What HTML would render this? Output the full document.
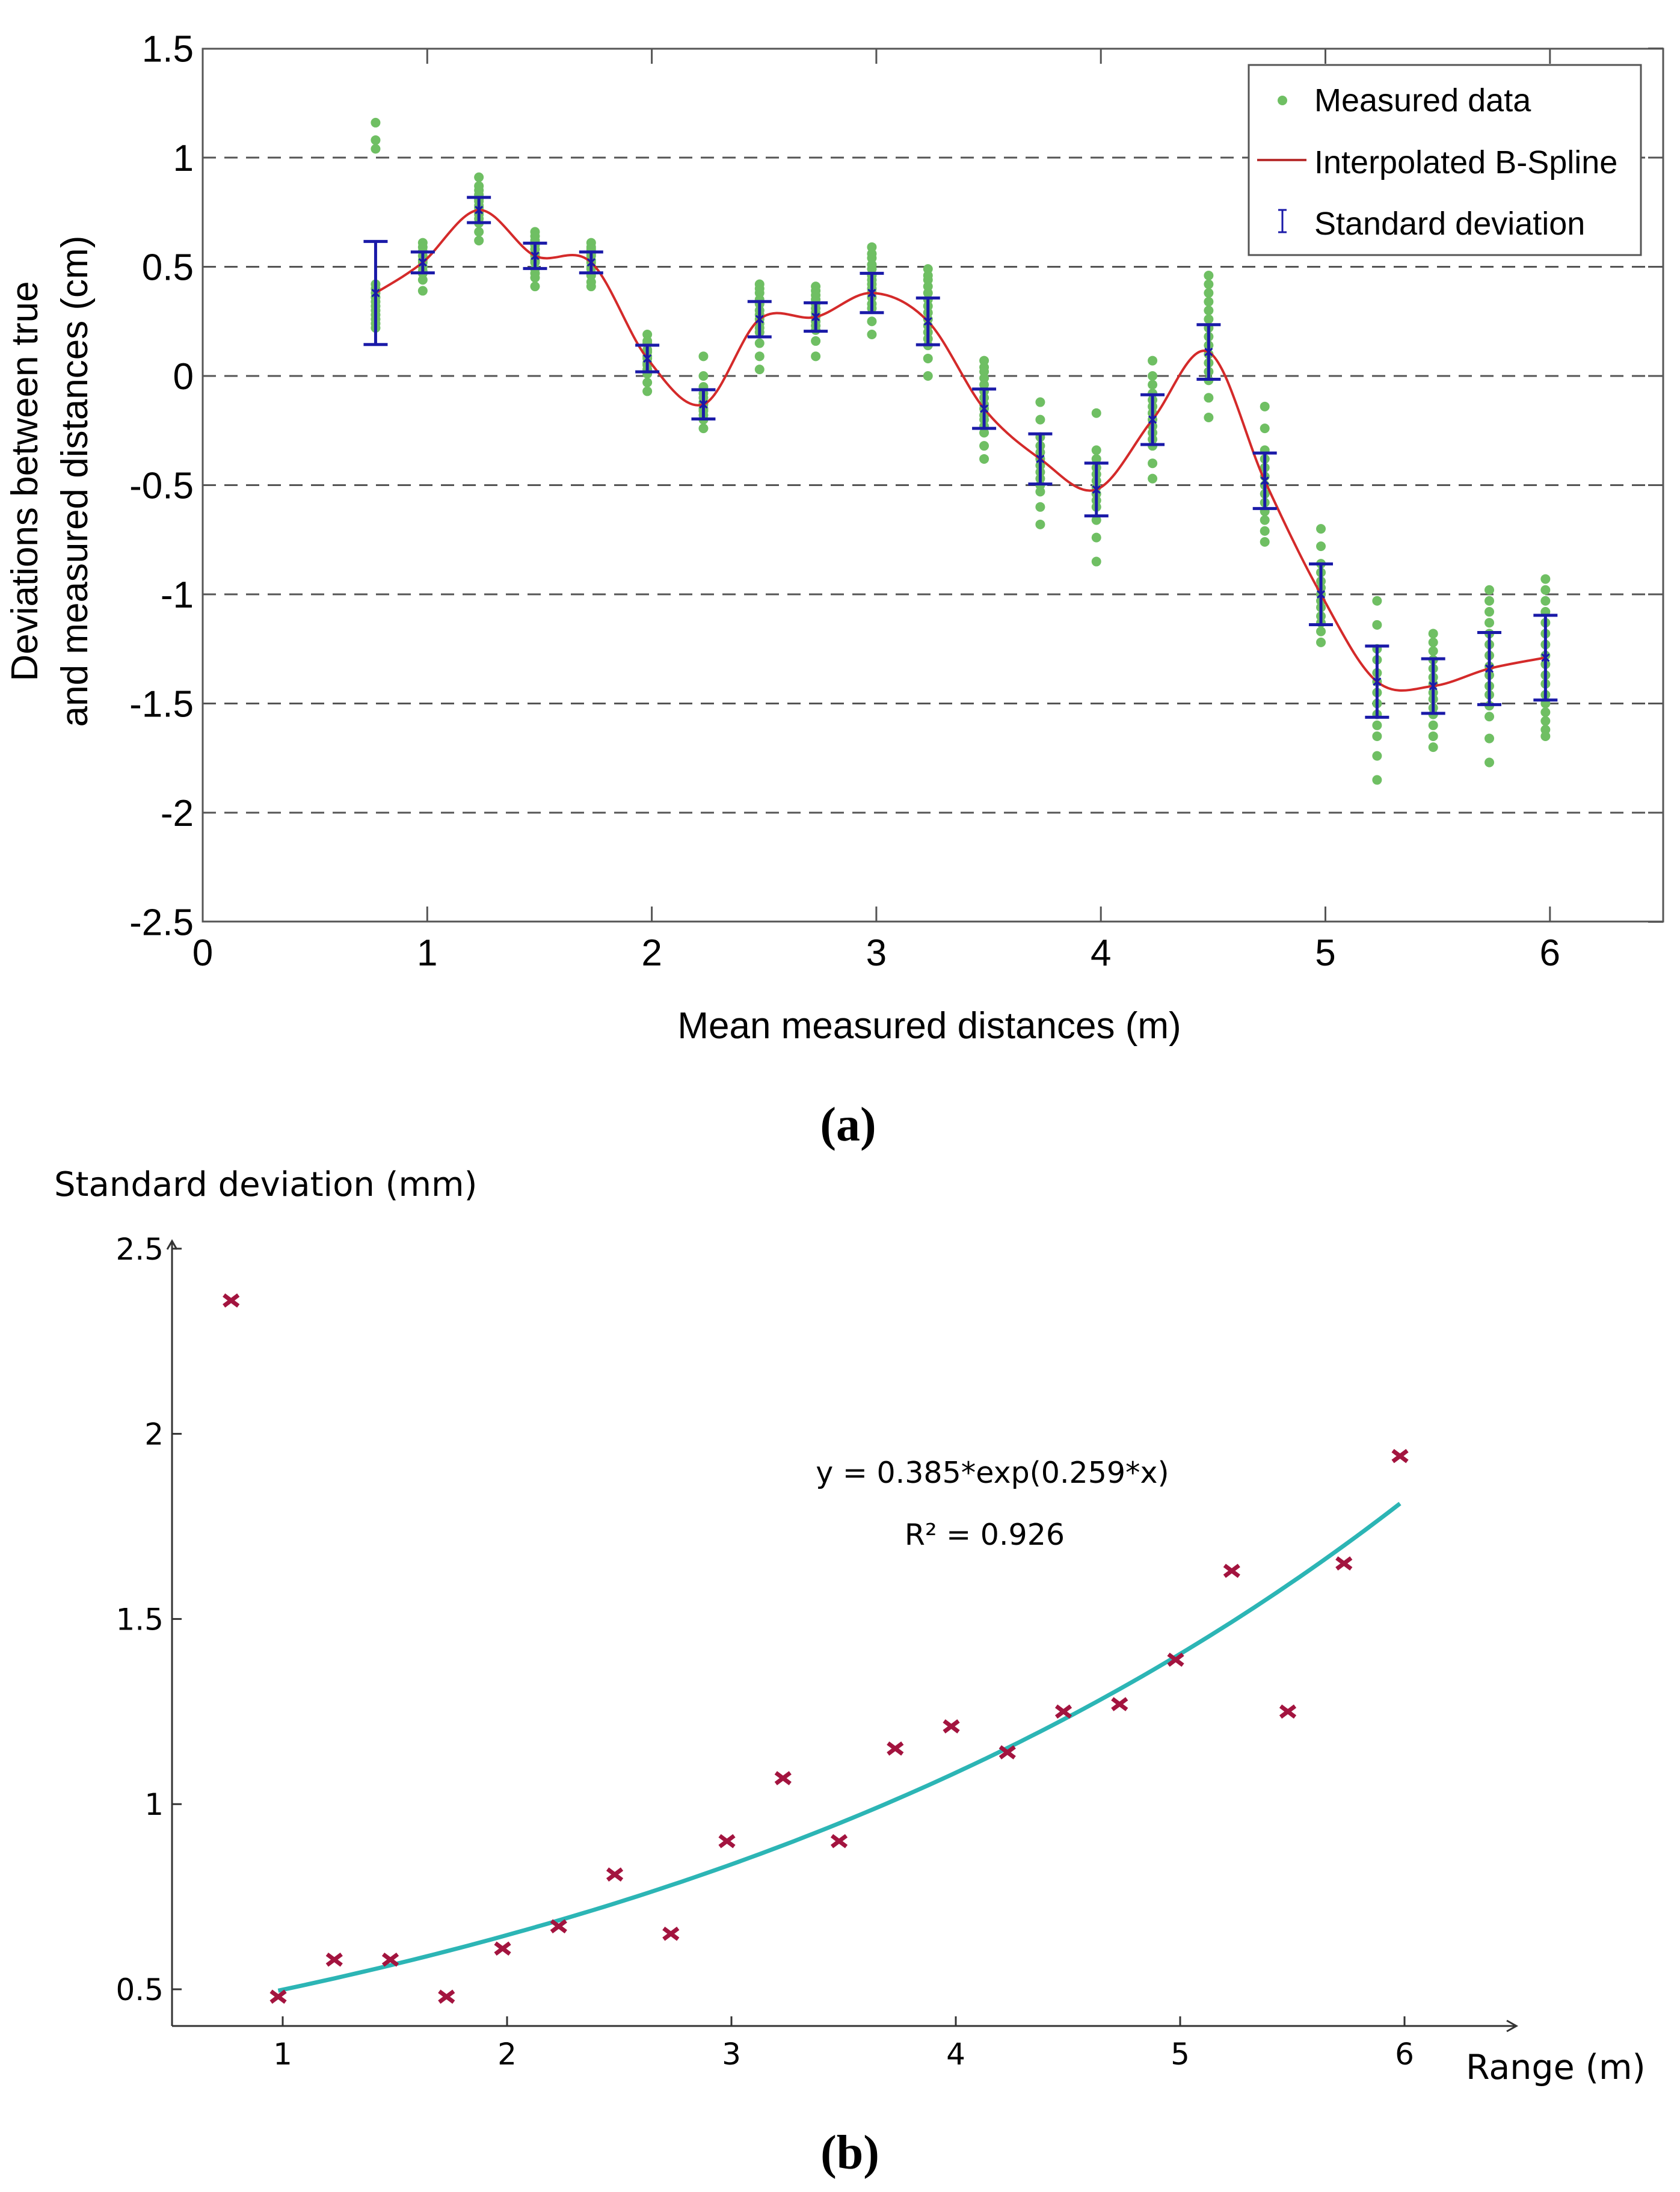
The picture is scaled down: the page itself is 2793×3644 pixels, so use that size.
<!DOCTYPE html>
<html><head><meta charset="utf-8"><style>
html,body{margin:0;padding:0;background:#fff}
svg{display:block}
</style></head><body>
<svg id="fig" xmlns="http://www.w3.org/2000/svg" width="2793" height="3644" viewBox="0 0 2793 3644">
<rect width="2793" height="3644" fill="#fff"/>
<g id="chartA"></g>
<g id="chartB"></g>
<text transform="translate(62,800) rotate(-90)" text-anchor="middle" font-family="Liberation Sans, sans-serif" font-size="62">Deviations between true</text>
<text transform="translate(145,800) rotate(-90)" text-anchor="middle" font-family="Liberation Sans, sans-serif" font-size="62">and measured distances (cm)</text>
<text x="1545" y="1726" text-anchor="middle" font-family="Liberation Sans, sans-serif" font-size="62">Mean measured distances (m)</text>
<text x="1410" y="1896" text-anchor="middle" font-family="Liberation Serif, serif" font-weight="bold" font-size="80">(a)</text>
<text x="90" y="1988" font-family="DejaVu Sans, sans-serif" font-size="56">Standard deviation (mm)</text>
<text x="2437" y="3456" font-family="DejaVu Sans, sans-serif" font-size="57">Range (m)</text>
<text x="1650" y="2465" text-anchor="middle" font-family="DejaVu Sans, sans-serif" font-size="49">y = 0.385*exp(0.259*x)</text>
<text x="1637" y="2568" text-anchor="middle" font-family="DejaVu Sans, sans-serif" font-size="49">R² = 0.926</text>
<text x="1413" y="3605" text-anchor="middle" font-family="Liberation Serif, serif" font-weight="bold" font-size="80">(b)</text>
</svg>
<script>
// ---------- data ----------
const distances = [0.77,0.98,1.23,1.48,1.73,1.98,2.23,2.48,2.73,2.98,3.23,3.48,3.73,3.98,4.23,4.48,4.73,4.98,5.23,5.48,5.73,5.98];
const means = [0.38,0.52,0.76,0.55,0.52,0.08,-0.13,0.26,0.27,0.38,0.25,-0.15,-0.38,-0.52,-0.2,0.11,-0.48,-1.0,-1.4,-1.42,-1.34,-1.29];
const stdMm = [2.36,0.48,0.58,0.58,0.48,0.61,0.67,0.81,0.65,0.90,1.07,0.90,1.15,1.21,1.14,1.25,1.27,1.39,1.63,1.25,1.65,1.94];
const measured = [
 [1.16,1.08,1.04,0.42,0.4,0.38,0.36,0.34,0.32,0.3,0.28,0.26,0.24,0.22],
 [0.61,0.59,0.57,0.55,0.53,0.52,0.5,0.48,0.47,0.44,0.39],
 [0.91,0.87,0.85,0.83,0.81,0.8,0.78,0.77,0.75,0.74,0.72,0.7,0.66,0.62],
 [0.66,0.64,0.62,0.6,0.58,0.56,0.55,0.53,0.52,0.49,0.47,0.45,0.41],
 [0.61,0.59,0.58,0.56,0.55,0.53,0.52,0.5,0.49,0.47,0.46,0.43,0.41],
 [0.19,0.16,0.15,0.12,0.11,0.09,0.08,0.06,0.05,0.03,0.01,-0.03,-0.07],
 [0.09,0.0,-0.05,-0.08,-0.1,-0.12,-0.13,-0.15,-0.16,-0.18,-0.2,-0.24],
 [0.42,0.4,0.38,0.35,0.33,0.3,0.28,0.26,0.24,0.22,0.2,0.15,0.09,0.03],
 [0.41,0.39,0.37,0.35,0.33,0.31,0.29,0.27,0.25,0.23,0.21,0.16,0.09],
 [0.59,0.56,0.54,0.51,0.49,0.46,0.44,0.42,0.4,0.38,0.36,0.33,0.31,0.25,0.19],
 [0.49,0.46,0.44,0.41,0.38,0.35,0.32,0.29,0.26,0.23,0.2,0.17,0.14,0.08,0.0],
 [0.07,0.04,0.02,-0.01,-0.04,-0.07,-0.1,-0.13,-0.15,-0.18,-0.2,-0.23,-0.26,-0.32,-0.38],
 [-0.12,-0.2,-0.28,-0.32,-0.35,-0.38,-0.41,-0.44,-0.47,-0.5,-0.53,-0.6,-0.68],
 [-0.17,-0.34,-0.38,-0.42,-0.45,-0.48,-0.51,-0.54,-0.57,-0.6,-0.66,-0.74,-0.85],
 [0.07,0.0,-0.04,-0.08,-0.11,-0.14,-0.17,-0.2,-0.23,-0.26,-0.29,-0.32,-0.4,-0.47],
 [0.46,0.42,0.38,0.34,0.3,0.26,0.22,0.18,0.14,0.1,0.06,0.02,-0.02,-0.1,-0.19],
 [-0.14,-0.24,-0.34,-0.38,-0.42,-0.46,-0.5,-0.54,-0.58,-0.62,-0.66,-0.71,-0.76],
 [-0.7,-0.78,-0.86,-0.9,-0.94,-0.97,-1.0,-1.03,-1.06,-1.1,-1.13,-1.17,-1.22],
 [-1.03,-1.14,-1.25,-1.3,-1.36,-1.4,-1.45,-1.5,-1.55,-1.6,-1.65,-1.74,-1.85],
 [-1.18,-1.22,-1.26,-1.3,-1.34,-1.38,-1.41,-1.45,-1.48,-1.52,-1.55,-1.6,-1.65,-1.7],
 [-0.98,-1.03,-1.08,-1.13,-1.18,-1.23,-1.28,-1.33,-1.37,-1.42,-1.46,-1.51,-1.56,-1.66,-1.77],
 [-0.93,-0.98,-1.03,-1.08,-1.13,-1.18,-1.23,-1.28,-1.32,-1.37,-1.41,-1.46,-1.5,-1.54,-1.58,-1.62,-1.65]
];
const yTicksA = [1.5,1,0.5,0,-0.5,-1,-1.5,-2,-2.5];
const yTickLabelsA = ["1.5","1","0.5","0","-0.5","-1","-1.5","-2","-2.5"];
const xTicksA = [0,1,2,3,4,5,6];
const gridA = [1,0.5,0,-0.5,-1,-1.5,-2];
const xTicksB = [1,2,3,4,5,6];
const yTicksB = [0.5,1,1.5,2,2.5];
const yTickLabelsB = ["0.5","1","1.5","2","2.5"];
const fitParams = [0.385,0.259];
const fitRange = [0.98,5.98];

const NS="http://www.w3.org/2000/svg";
function mk(parent,tag,attrs){const e=document.createElementNS(NS,tag);for(const k in attrs)e.setAttribute(k,attrs[k]);parent.appendChild(e);return e;}

// ---------- chart A ----------
const A=document.getElementById('chartA');
const axL=337,axR=2765,axT=81,axB=1532;
const xa=v=>337+373.3*v;
const ya=v=>625-363*v;
for(const g of gridA){
 const l=mk(A,'line',{x1:axL,x2:axR,y1:ya(g),y2:ya(g),stroke:'#555','stroke-width':3,'stroke-dasharray':'22,14'});
 
 
}
const frame=mk(A,'rect',{x:axL,y:axT,width:axR-axL,height:axB-axT,fill:'none',stroke:'#555','stroke-width':3});


xTicksA.forEach(v=>{
 mk(A,'line',{x1:xa(v),x2:xa(v),y1:axB,y2:axB-25,stroke:'#555','stroke-width':3});
 mk(A,'line',{x1:xa(v),x2:xa(v),y1:axT,y2:axT+25,stroke:'#555','stroke-width':3});
 const t=mk(A,'text',{x:xa(v),y:1605,'text-anchor':'middle','font-family':'Liberation Sans, sans-serif','font-size':62});
 t.textContent=String(v);
 
 
});
yTicksA.forEach((v,i)=>{
 mk(A,'line',{x1:axR,x2:axR-25,y1:ya(v),y2:ya(v),stroke:'#555','stroke-width':3});
 const t=mk(A,'text',{x:322,y:ya(v)+22,'text-anchor':'end','font-family':'Liberation Sans, sans-serif','font-size':62});
 t.textContent=yTickLabelsA[i];
 
 
});
measured.forEach((col,i)=>{col.forEach(v=>{
 const c=mk(A,'circle',{cx:xa(distances[i]),cy:ya(v),r:8,fill:'#6fbf63'});
 
 
});});
(function(){
 const P=distances.map((d,i)=>[xa(d),ya(means[i])]);
 let d='M'+P[0][0]+','+P[0][1];
 for(let i=0;i<P.length-1;i++){
  const p0=P[Math.max(0,i-1)],p1=P[i],p2=P[i+1],p3=P[Math.min(P.length-1,i+2)];
  const c1=[p1[0]+(p2[0]-p0[0])/6,p1[1]+(p2[1]-p0[1])/6];
  const c2=[p2[0]-(p3[0]-p1[0])/6,p2[1]-(p3[1]-p1[1])/6];
  d+=' C'+c1+' '+c2+' '+p2;
 }
 const s=mk(A,'path',{d:d,fill:'none',stroke:'#d42a2a','stroke-width':4});
 
 
})();
distances.forEach((dd,i)=>{
 const x=xa(dd),s=stdMm[i]/10,t=ya(means[i]+s),b=ya(means[i]-s);
 const g=mk(A,'g',{stroke:'#1a1aa8','stroke-width':5,fill:'none'});
 
 
 mk(g,'line',{x1:x,x2:x,y1:t,y2:b});
 mk(g,'line',{x1:x-20,x2:x+20,y1:t,y2:t});
 mk(g,'line',{x1:x-20,x2:x+20,y1:b,y2:b});
 mk(g,'path',{d:`M${x-6},${ya(means[i])-6}L${x+6},${ya(means[i])+6}M${x-6},${ya(means[i])+6}L${x+6},${ya(means[i])-6}`,'stroke-width':3});
});
(function(){
 const g=mk(A,'g',{});
 
 
 mk(g,'rect',{x:2076,y:108,width:652,height:316,fill:'#fff',stroke:'#555','stroke-width':3});
 mk(g,'circle',{cx:2132,cy:167,r:8,fill:'#6fbf63'});
 mk(g,'line',{x1:2090,x2:2172,y1:266,y2:266,stroke:'#b83030','stroke-width':4});
 mk(g,'path',{d:'M2132,349V386M2125,349H2139M2125,386H2139',stroke:'#1a1aa8','stroke-width':3,fill:'none'});
 const labels=['Measured data','Interpolated B-Spline','Standard deviation'];const ys=[185,288,390];
 labels.forEach((s,i)=>{const t=mk(g,'text',{x:2185,y:ys[i],'font-family':'Liberation Sans, sans-serif','font-size':54});t.textContent=s;
  
  });
})();

// ---------- chart B ----------
const B=document.getElementById('chartB');
const xb=v=>97+373*v;
const yb=v=>3307-615.6*(v-0.5);
const oX=286,oY=3368;
mk(B,'path',{d:`M${oX},${oY}H2521M2505,${oY-9}L2521,${oY}L2505,${oY+9}`,stroke:'#333','stroke-width':3,fill:'none'});
mk(B,'path',{d:`M${oX},${oY}V2063M${oX-8},2077L${oX},2063L${oX+8},2077`,stroke:'#333','stroke-width':3,fill:'none'});
xTicksB.forEach(v=>{
 mk(B,'line',{x1:xb(v),x2:xb(v),y1:oY,y2:oY-16,stroke:'#333','stroke-width':3});
 const t=mk(B,'text',{x:xb(v),y:3432,'text-anchor':'middle','font-family':'DejaVu Sans, sans-serif','font-size':50});
 t.textContent=String(v);
 
 
});
yTicksB.forEach((v,i)=>{
 mk(B,'line',{x1:oX,x2:oX+16,y1:yb(v),y2:yb(v),stroke:'#333','stroke-width':3});
 const t=mk(B,'text',{x:272,y:yb(v)+18,'text-anchor':'end','font-family':'DejaVu Sans, sans-serif','font-size':50});
 t.textContent=yTickLabelsB[i];
 
 
});
(function(){
 let d='';
 for(let k=0;k<=100;k++){const x=fitRange[0]+(fitRange[1]-fitRange[0])*k/100;const y=fitParams[0]*Math.exp(fitParams[1]*x);d+=(k?'L':'M')+xb(x).toFixed(1)+','+yb(y).toFixed(1);}
 const p=mk(B,'path',{d:d,fill:'none',stroke:'#2cb5b5','stroke-width':7});
 
 
})();
distances.forEach((dd,i)=>{
 const x=xb(dd),y=yb(stdMm[i]);
 const m=mk(B,'path',{d:`M${x-12},${y-9}L${x+12},${y+9}M${x-12},${y+9}L${x+12},${y-9}`,stroke:'#a3143f','stroke-width':7});
 
 
});
</script>
</body></html>
